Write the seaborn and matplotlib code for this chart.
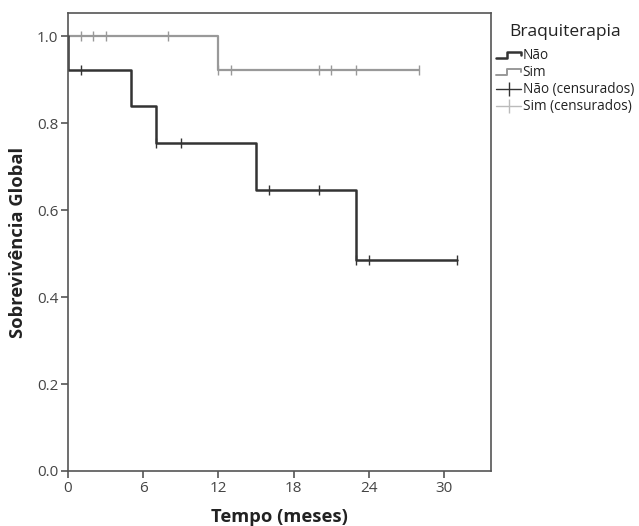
import matplotlib
matplotlib.use("Agg")
import matplotlib.pyplot as plt
import seaborn as sns
import pandas as pd
from matplotlib.lines import Line2D
from matplotlib.legend_handler import HandlerLine2D

# ---- data ----
nao_t = [0, 0, 5, 7, 15, 23, 31]
nao_s = [1.0, 0.923, 0.839, 0.755, 0.647, 0.486, 0.486]
sim_t = [0, 12, 28]
sim_s = [1.0, 0.923, 0.923]
nao_cens_t = [1, 7, 9, 16, 20, 23, 24, 31]
nao_cens_s = [0.923, 0.755, 0.755, 0.647, 0.647, 0.486, 0.486, 0.486]
sim_cens_t = [1, 2, 3, 8, 12, 13, 20, 21, 23, 28]
sim_cens_s = [1.0, 1.0, 1.0, 1.0, 0.923, 0.923, 0.923, 0.923, 0.923, 0.923]
x_ticks = [0, 6, 12, 18, 24, 30]
y_ticks = [0.0, 0.2, 0.4, 0.6, 0.8, 1.0]

dark = "#333333"
light = "#999999"
axc = "#555555"

sns.set_theme(style="white")
plt.rcParams["font.family"] = ["Open Sans", "DejaVu Sans"]

fig = plt.figure(figsize=(6.39, 5.26), dpi=100)
ax = fig.add_axes([68/639, 1-471/526, (491-68)/639, (471-13)/526])

df_sim = pd.DataFrame({"t": sim_t, "s": sim_s})
df_nao = pd.DataFrame({"t": nao_t, "s": nao_s})
sns.lineplot(data=df_sim, x="t", y="s", estimator=None, sort=False,
             drawstyle="steps-post", color=light, lw=1.6, ax=ax)
sns.lineplot(data=df_nao, x="t", y="s", estimator=None, sort=False,
             drawstyle="steps-post", color=dark, lw=1.8, ax=ax)
sns.scatterplot(x=sim_cens_t, y=sim_cens_s, marker="|", s=60, color=light,
                linewidth=1.0, ax=ax, zorder=3)
sns.scatterplot(x=nao_cens_t, y=nao_cens_s, marker="|", s=60, color=dark,
                linewidth=1.0, ax=ax, zorder=4)

ax.set_xlim(0, 33.75)
ax.set_ylim(0, 1.053)
ax.set_xticks(x_ticks)
ax.set_yticks(y_ticks)
ax.set_yticklabels([f"{v:.1f}" for v in y_ticks])
for sp in ax.spines.values():
    sp.set_visible(True)
    sp.set_color(axc)
    sp.set_linewidth(1.2)
ax.tick_params(axis="both", which="both", direction="out", length=5, width=1.2,
               color=axc, labelsize=11, labelcolor="#444444", pad=2,
               bottom=True, left=True, top=False, right=False)
ax.set_xlabel("Tempo (meses)", fontsize=13.2, fontweight="bold", color="#222222", labelpad=9)
ax.set_ylabel("Sobrevivência Global", fontsize=13.2, fontweight="bold", color="#222222", labelpad=7)


class HandlerStep(HandlerLine2D):
    def create_artists(self, legend, orig_handle, xdescent, ydescent, width, height, fontsize, trans):
        x0 = -xdescent
        y0 = -ydescent
        xs = [x0, x0 + width*0.45, x0 + width*0.45, x0 + width, x0 + width]
        ys = [y0 + height*0.1, y0 + height*0.1, y0 + height*0.8, y0 + height*0.8, y0 + height*0.45]
        ln = Line2D(xs, ys, color=orig_handle.get_color(), lw=orig_handle.get_linewidth())
        ln.set_transform(trans)
        return [ln]


h1 = Line2D([], [], color=dark, lw=1.8)
h2 = Line2D([], [], color=light, lw=1.4)
h3 = Line2D([], [], color=dark, lw=1.0, marker="|", markersize=10)
h4 = Line2D([], [], color="#bbbbbb", lw=1.0, marker="|", markersize=10)
leg = fig.legend([h1, h2, h3, h4], ["Não", "Sim", "Não (censurados)", "Sim (censurados)"],
                 handler_map={h1: HandlerStep(), h2: HandlerStep()},
                 loc="upper left", bbox_to_anchor=(496/639, 1-24/526),
                 frameon=False, fontsize=9.8, title="Braquiterapia",
                 title_fontsize=12.5, handlelength=1.85, handletextpad=0.1,
                 labelspacing=0.15, borderpad=0, borderaxespad=0)
leg._legend_box.sep = 6
leg.get_title().set_color("#222222")
for t in leg.get_texts():
    t.set_color("#222222")

fig.savefig("out.png", dpi=100)
